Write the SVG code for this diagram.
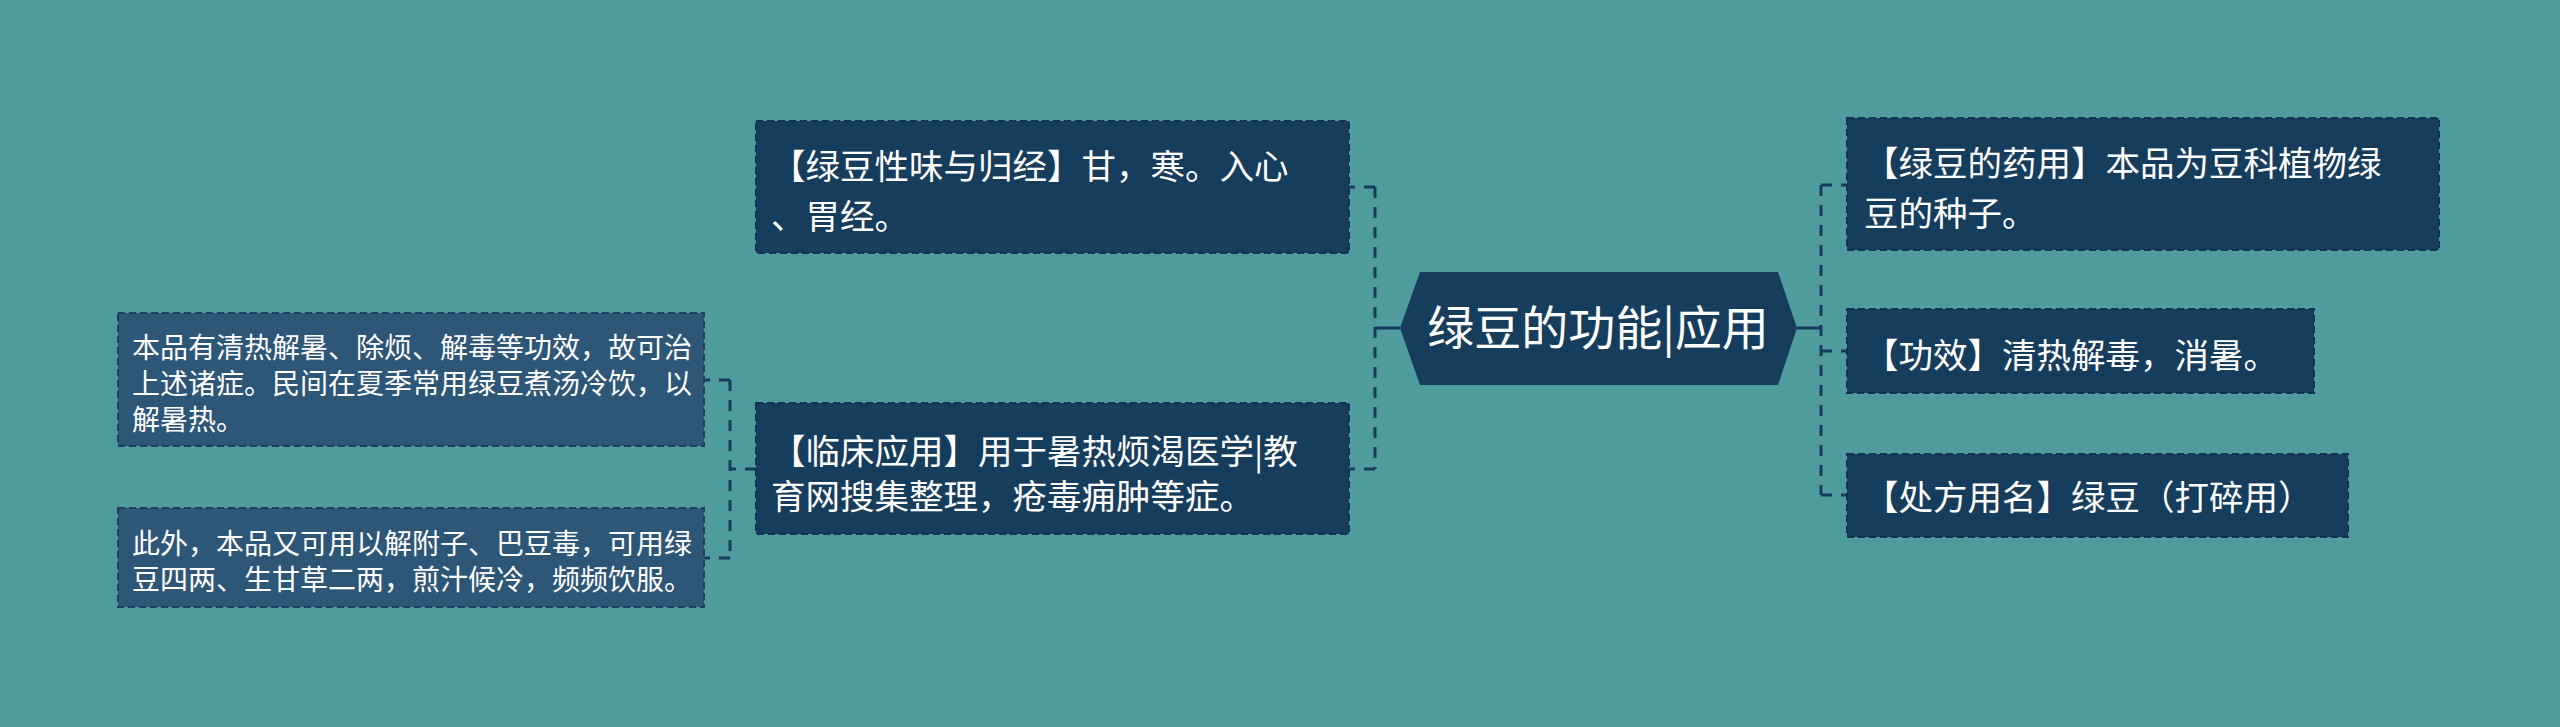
<svg xmlns="http://www.w3.org/2000/svg" width="2560" height="727" viewBox="0 0 2560 727">
<style>
.bg{fill:#4E9C9C}
.box{fill:#173D5D;stroke:#12334F;stroke-width:2;stroke-dasharray:7 4}
.box2{fill:#2E5676;stroke:#1B3F5C;stroke-width:2;stroke-dasharray:7 4}
.t{font-family:"Noto Sans CJK SC","Noto Sans",sans-serif;fill:#FFFFFF}
.t34{font-size:34.5px}
.t28{font-size:28px}
.t42{font-size:47px}
.ln{fill:none;stroke:#173D5D;stroke-width:3}
.dl{fill:none;stroke:#173D5D;stroke-width:3;stroke-dasharray:11 9}
</style>
<rect class="bg" x="0" y="0" width="2560" height="727"/>
<g id="connectors">
<line class="ln" x1="1375" y1="328" x2="1400" y2="328"/>
<line class="dl" x1="1375" y1="187" x2="1375" y2="469"/>
<line class="dl" x1="1375" y1="187" x2="1349" y2="187"/>
<line class="dl" x1="1375" y1="469" x2="1349" y2="469"/>
<line class="ln" x1="1797" y1="328" x2="1821" y2="328"/>
<line class="dl" x1="1821" y1="185" x2="1821" y2="495"/>
<line class="dl" x1="1821" y1="185" x2="1847" y2="185"/>
<line class="dl" x1="1821" y1="351" x2="1847" y2="351"/>
<line class="dl" x1="1821" y1="495" x2="1847" y2="495"/>
<line class="dl" x1="756" y1="469" x2="730" y2="469"/>
<line class="dl" x1="730" y1="380" x2="730" y2="558"/>
<line class="dl" x1="730" y1="380" x2="704" y2="380"/>
<line class="dl" x1="730" y1="558" x2="704" y2="558"/>
</g>
<g id="center">
<polygon points="1400,328 1420,272 1778,272 1797,328 1778,385 1420,385" fill="#173D5D"/>
<text class="t t42" x="1598" y="345" text-anchor="middle">绿豆的功能|应用</text>
</g>
<g id="node-xingwei">
<rect class="box" x="756" y="121" width="593" height="132"/>
<text class="t t34" x="771" y="179">【绿豆性味与归经】甘，寒。入心</text>
<text class="t t34" x="771" y="229">、胃经。</text>
</g>
<g id="node-linchuang">
<rect class="box" x="756" y="403" width="593" height="131"/>
<text class="t t34" x="771" y="464">【临床应用】用于暑热烦渴医学|教</text>
<text class="t t34" x="771" y="509">育网搜集整理，疮毒痈肿等症。</text>
</g>
<g id="node-qingre">
<rect class="box2" x="118" y="313" width="586" height="133"/>
<text class="t t28" x="132" y="358">本品有清热解暑、除烦、解毒等功效，故可治</text>
<text class="t t28" x="132" y="394">上述诸症。民间在夏季常用绿豆煮汤冷饮，以</text>
<text class="t t28" x="132" y="430">解暑热。</text>
</g>
<g id="node-jiedu">
<rect class="box2" x="118" y="508" width="586" height="99"/>
<text class="t t28" x="132" y="554">此外，本品又可用以解附子、巴豆毒，可用绿</text>
<text class="t t28" x="132" y="590">豆四两、生甘草二两，煎汁候冷，频频饮服。</text>
</g>
<g id="node-yaoyong">
<rect class="box" x="1847" y="118" width="592" height="132"/>
<text class="t t34" x="1864" y="176">【绿豆的药用】本品为豆科植物绿</text>
<text class="t t34" x="1864" y="226">豆的种子。</text>
</g>
<g id="node-gongxiao">
<rect class="box" x="1847" y="309" width="467" height="84"/>
<text class="t t34" x="1864" y="368">【功效】清热解毒，消暑。</text>
</g>
<g id="node-chufang">
<rect class="box" x="1847" y="454" width="501" height="83"/>
<text class="t t34" x="1864" y="510">【处方用名】绿豆（打碎用）</text>
</g>
</svg>
